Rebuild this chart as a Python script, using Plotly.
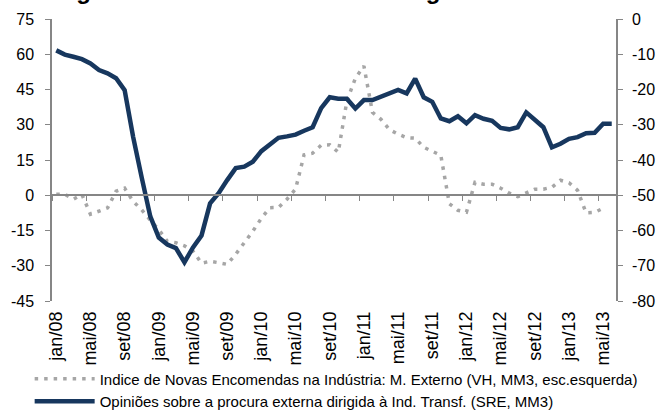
import plotly.graph_objects as go

# ---- data ----
month_names = ["jan", "fev", "mar", "abr", "mai", "jun", "jul", "ago", "set", "out", "nov", "dez"]
years = ["08", "09", "10", "11", "12", "13"]
months = [f"{m}/{y}" for y in years for m in month_names][:66]   # jan/08 .. jun/13

tick_labels = ["jan/08", "mai/08", "set/08", "jan/09", "mai/09", "set/09", "jan/10", "mai/10",
               "set/10", "jan/11", "mai/11", "set/11", "jan/12", "mai/12", "set/12", "jan/13", "mai/13"]

left_ticks = [-45, -30, -15, 0, 15, 30, 45, 60, 75]
right_ticks = [-80, -70, -60, -50, -40, -30, -20, -10, 0]

# Indice de Novas Encomendas na Indústria: M. Externo (VH, MM3) - left axis (jan/08 .. mai/13)
novas_encomendas = [0.4, 0.4, -1.7, 0.3, -8.1, -6.6, -5.4, 1.7, 3.0, -2.6,
                    -6.2, -10.6, -14.7, -19.6, -20.2, -21.5, -23.8, -28.9, -28.1, -28.7,
                    -29.4, -25.1, -20.4, -15.3, -9.8, -5.3, -5.2, -1.7, 2.6, 17.2,
                    17.9, 21.3, 21.5, 18.3, 40.0, 49.8, 55.0, 35.3, 32.3, 27.9,
                    26.0, 24.5, 24.3, 20.4, 18.7, 17.0, -3.6, -6.4, -7.2, 5.5,
                    4.7, 4.7, 3.0, 0.9, -0.6, 0.9, 2.6, 2.6, 3.4, 6.4,
                    5.3, 2.1, -7.5, -7.3, -5.5]

# Opiniões sobre a procura externa dirigida à Ind. Transf. (SRE, MM3) - right axis (jan/08 .. jun/13)
opinioes = [-8.9, -10.1, -10.7, -11.4, -12.6, -14.5, -15.4, -16.8, -20.2, -33.5,
            -45.0, -56.0, -62.0, -64.0, -65.0, -69.0, -64.8, -61.4, -52.3, -49.4,
            -45.7, -42.3, -41.9, -40.5, -37.5, -35.5, -33.7, -33.3, -32.8, -31.7,
            -30.7, -25.3, -22.2, -22.6, -22.6, -25.4, -23.0, -23.0, -22.1, -20.9,
            -20.1, -21.1, -16.9, -22.2, -23.5, -28.2, -29.0, -27.6, -29.6, -27.3,
            -28.3, -28.9, -30.9, -31.3, -30.7, -26.5, -28.6, -30.7, -36.4, -35.4,
            -34.0, -33.5, -32.4, -32.3, -29.7, -29.7]

name_gray = "Indice de Novas Encomendas na Indústria: M. Externo (VH, MM3, esc.esquerda)"
name_navy = "Opiniões sobre a procura externa dirigida à Ind. Transf. (SRE, MM3)"
title_text = "Figura 1.10: Procura Externa dirigida à Indústria"

# ---- styles ----
FONT = "Arial, Liberation Sans, sans-serif"
NAVY = "#17375E"
GRAY = "#A6A6A6"
AXIS = "#868686"

idx_all = list(range(len(months)))
idx_gray = idx_all[:len(novas_encomendas)]
tick_idx = [months.index(t) for t in tick_labels]

fig = go.Figure()
fig.add_trace(go.Scatter(
    x=idx_gray, y=novas_encomendas, name=name_gray, mode="lines",
    line=dict(color=GRAY, width=3.5, dash="3.5px,6px"),
    customdata=[months[i] for i in idx_gray], hovertemplate="%{customdata}: %{y}<extra></extra>",
    xaxis="x", yaxis="y"))
fig.add_trace(go.Scatter(
    x=idx_all, y=opinioes, name=name_navy, mode="lines",
    line=dict(color=NAVY, width=4.5),
    customdata=months, hovertemplate="%{customdata}: %{y}<extra></extra>",
    xaxis="x", yaxis="y2"))
# invisible trace so the crossing category axis is drawn
fig.add_trace(go.Scatter(x=[idx_all[0]], y=[0], mode="lines", showlegend=False,
                         hoverinfo="skip", line=dict(width=0), xaxis="x2", yaxis="y"))

xr = [-0.5, len(months) - 0.5]
yl = [left_ticks[0], left_ticks[-1]]
yr = [right_ticks[0], right_ticks[-1]]

def lab(v):
    return str(v)  # hyphen-minus as in the reference

fig.update_layout(
    width=659, height=410,
    margin=dict(l=52, r=43, t=19, b=109, autoexpand=False),
    paper_bgcolor="white", plot_bgcolor="white",
    font=dict(family=FONT, color="black"),
    showlegend=True,
    xaxis=dict(range=xr, tickmode="array", tickvals=tick_idx, ticktext=tick_labels,
               tickangle=-90, showgrid=False, zeroline=False, showline=False, ticks="",
               tickfont=dict(size=18, family=FONT, color="black"), ticklabelstandoff=6),
    xaxis2=dict(range=xr, overlaying="x", anchor="free",
                position=(0 - yl[0]) / (yl[1] - yl[0]),
                tick0=-0.5, dtick=4, showticklabels=False, ticks="outside", ticklen=5,
                tickcolor=AXIS, tickwidth=1.3, showline=True, linecolor=AXIS, linewidth=1.5,
                showgrid=False, zeroline=False),
    yaxis=dict(range=yl, tickmode="array", tickvals=left_ticks,
               ticktext=[lab(v) for v in left_ticks], showgrid=False, zeroline=False,
               showline=True, linecolor=AXIS, linewidth=1.5, ticks="outside", ticklen=5,
               tickcolor=AXIS, tickwidth=1.3, tickfont=dict(size=16, family=FONT, color="black"),
               ticklabelstandoff=8),
    yaxis2=dict(range=yr, tickmode="array", tickvals=right_ticks,
                ticktext=[lab(v) for v in right_ticks], overlaying="y", side="right",
                showgrid=False, zeroline=False, showline=True, linecolor=AXIS, linewidth=1.5,
                ticks="outside", ticklen=5, tickcolor=AXIS, tickwidth=1.3,
                tickfont=dict(size=16, family=FONT, color="black"), ticklabelstandoff=6),
    legend=dict(orientation="v", xref="container", yref="container", x=0.045, y=0.116,
                xanchor="left", yanchor="top", bgcolor="rgba(0,0,0,0)",
                font=dict(size=15, family=FONT, color="black"),
                tracegroupgap=0, itemwidth=60),
    annotations=[dict(text="<b>" + title_text + "</b>", xref="paper", yref="paper",
                      x=0.492, y=1, xanchor="center", yanchor="bottom", yshift=13,
                      showarrow=False, font=dict(size=24, family=FONT, color="black"))],
)

fig.write_html("out.html", config={"displayModeBar": False},
               post_script="document.body.style.margin='0';document.body.style.padding='0';")
